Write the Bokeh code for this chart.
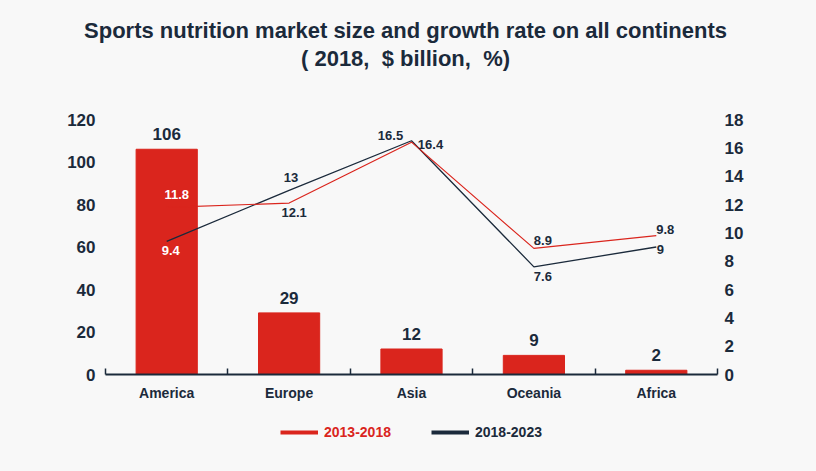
from bokeh.plotting import figure
from bokeh.layouts import column
from bokeh.models import (ColumnDataSource, Range1d, LinearAxis, CategoricalAxis, FixedTicker,
                          LabelSet, Label, Legend, LegendItem, FactorRange)
from bokeh.core.properties import value
from bokeh.embed import file_html
from bokeh.resources import INLINE

continents = ["America", "Europe", "Asia", "Oceania", "Africa"]
market_size = [106, 29, 12, 9, 2]
growth_2013_2018 = [11.8, 12.1, 16.4, 8.9, 9.8]
growth_2018_2023 = [9.4, 13, 16.5, 7.6, 9]
left_ticks = [0, 20, 40, 60, 80, 100, 120]
right_ticks = [0, 2, 4, 6, 8, 10, 12, 14, 16, 18]
boundary_ticks = [0, 1, 2, 3, 4, 5]  # category boundaries (synthetic coords)
series_names = ["2013-2018", "2018-2023"]
title_lines = ["Sports nutrition market size and growth rate on all continents",
               "( 2018,\u00a0\u00a0$ billion,\u00a0\u00a0%)"]

RED = "#da251d"
NAVY = "#1b2a3b"
BG = "#f8f8f8"
FONT = "Liberation Sans"
W = 816

# label placement (screen px), style only
red_dx = [10, 5, 19, 9, 9]
red_dy = [13, -9.5, -2, 8, 6]
red_col = ["white", NAVY, NAVY, NAVY, NAVY]
blk_dx = [4, 2, -21, 9, 4]
blk_dy = [-9, 13, 5, -10, -2.5]
blk_col = ["white", NAVY, NAVY, NAVY, NAVY]


def blank(fig):
    fig.background_fill_color = BG
    fig.border_fill_color = BG
    fig.outline_line_color = None
    fig.title.visible = False
    fig.xgrid.visible = False
    fig.ygrid.visible = False


# ---- title strip ----
TH = 105
pt = figure(width=W, height=TH, x_range=Range1d(0, W), y_range=Range1d(TH, 0),
            x_axis_type=None, y_axis_type=None, output_backend="svg", toolbar_location=None,
            min_border=0)
pt.frame_align = False
blank(pt)
for txt, yy in zip(title_lines, (30, 58)):
    pt.add_layout(Label(x=405, y=yy, text=txt, text_align="center", text_baseline="middle",
                        text_font=FONT, text_font_style="bold", text_font_size="22px",
                        text_color=NAVY))

# ---- main chart ----
MH = 300
p = figure(width=W, height=MH, x_range=FactorRange(*continents, range_padding=0),
           y_range=Range1d(0, 120), x_axis_type=None, y_axis_type=None,
           output_backend="svg", toolbar_location=None,
           min_border_left=105, min_border_right=W - 717, min_border_top=119 - TH,
           min_border_bottom=TH + MH - 374)
blank(p)
p.ygrid.visible = True
p.extra_y_ranges = {"r": Range1d(0, 18)}

la = LinearAxis(ticker=FixedTicker(ticks=left_ticks))
ra = LinearAxis(y_range_name="r", ticker=FixedTicker(ticks=right_ticks))
for ax, so in ((la, 4), (ra, 1)):
    ax.axis_line_color = None
    ax.major_tick_line_color = None
    ax.minor_tick_line_color = None
    ax.major_label_text_font = FONT
    ax.major_label_text_font_style = "bold"
    ax.major_label_text_font_size = "17px"
    ax.major_label_text_color = NAVY
    ax.major_label_standoff = so
p.add_layout(la, "left")
p.add_layout(ra, "right")

# axis line with short inward ticks at the category boundaries
ta = CategoricalAxis(ticker=FixedTicker(ticks=boundary_ticks))
ta.axis_line_color = NAVY
ta.axis_line_width = 2
ta.major_tick_line_color = NAVY
ta.major_tick_line_width = 1.5
ta.major_tick_in = 6
ta.major_tick_out = 0
ta.major_label_text_font_size = "0px"
ta.major_label_text_color = None
ta.major_label_standoff = 0
p.add_layout(ta, "below")

ca = CategoricalAxis()
ca.axis_line_color = None
ca.major_tick_line_color = None
ca.major_tick_out = 0
ca.major_tick_in = 0
ca.major_label_text_font = FONT
ca.major_label_text_font_style = "bold"
ca.major_label_text_font_size = "14px"
ca.major_label_text_color = NAVY
ca.major_label_standoff = 10
p.add_layout(ca, "below")

p.ygrid.grid_line_color = "#c4c4c4"
p.ygrid.grid_line_dash = "4 3"
p.ygrid.grid_line_width = 1
p.ygrid.ticker = FixedTicker(ticks=left_ticks[1:])

bsrc = ColumnDataSource(dict(x=continents, top=market_size, t=[str(v) for v in market_size]))
p.vbar(x="x", top="top", width=0.5, source=bsrc, color=RED)

rsrc = ColumnDataSource(dict(x=continents, y=growth_2013_2018, t=[f"{v:g}" for v in growth_2013_2018],
                             dx=red_dx, dy=red_dy, c=red_col))
ksrc = ColumnDataSource(dict(x=continents, y=growth_2018_2023, t=[f"{v:g}" for v in growth_2018_2023],
                             dx=blk_dx, dy=blk_dy, c=blk_col))
p.line(x="x", y="y", source=ksrc, y_range_name="r", line_color=NAVY, line_width=1.3)
p.line(x="x", y="y", source=rsrc, y_range_name="r", line_color=RED, line_width=1.2)

p.add_layout(LabelSet(x="x", y="top", text="t", source=bsrc, y_offset=15, text_align="center",
                      text_baseline="middle", text_font=value(FONT), text_font_style="bold",
                      text_font_size="17px", text_color=NAVY))
for src in (rsrc, ksrc):
    p.add_layout(LabelSet(x="x", y="y", text="t", source=src, y_range_name="r",
                          x_offset="dx", y_offset="dy", text_align="center", text_baseline="middle",
                          text_font=value(FONT), text_font_style="bold", text_font_size="13px",
                          text_color="c"))

# ---- legend strip ----
LH = 471 - TH - MH
pl = figure(width=W, height=LH, x_range=Range1d(0, 1), y_range=Range1d(0, 1),
            x_axis_type=None, y_axis_type=None, output_backend="svg", toolbar_location=None,
            min_border=0)
pl.frame_align = False
blank(pl)
# swatch renderers: the series themselves, outside this strip's visible range
sw_r = pl.line(x=growth_2013_2018, y=growth_2013_2018, line_color=RED, line_width=4)
sw_k = pl.line(x=growth_2018_2023, y=growth_2018_2023, line_color=NAVY, line_width=4)
leg_y = 471 - 440
for name, r, col, lx in ((series_names[0], sw_r, RED, 280), (series_names[1], sw_k, NAVY, 431)):
    lg = Legend(items=[LegendItem(label=name, renderers=[r])], location=(lx, leg_y),
                orientation="horizontal", background_fill_alpha=0, border_line_color=None,
                padding=0, margin=0, glyph_width=38, glyph_height=16, label_height=16,
                label_standoff=6, label_text_font=FONT, label_text_font_style="bold",
                label_text_font_size="14px", label_text_color=col)
    pl.add_layout(lg, "center")

layout = column(pt, p, pl, spacing=0, styles={"background-color": BG})
open("out.html", "w").write(file_html(layout, INLINE))
